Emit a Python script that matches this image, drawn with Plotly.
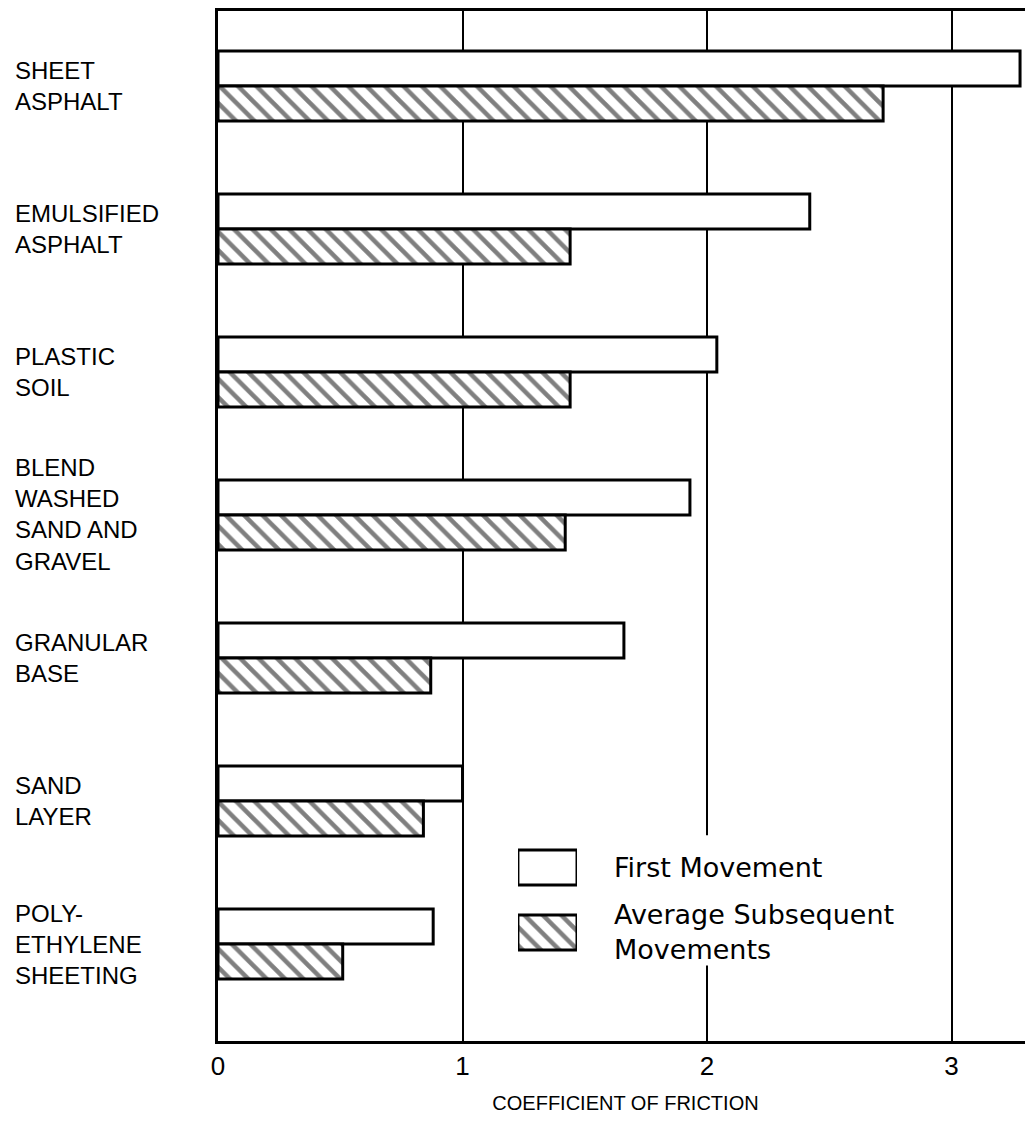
import plotly.graph_objects as go

# ---- data ----
CATEGORIES = [
    "SHEET<br>ASPHALT",
    "EMULSIFIED<br>ASPHALT",
    "PLASTIC<br>SOIL",
    "BLEND<br>WASHED<br>SAND AND<br>GRAVEL",
    "GRANULAR<br>BASE",
    "SAND<br>LAYER",
    "POLY-<br>ETHYLENE<br>SHEETING",
]
FIRST_MOVEMENT = [3.28, 2.42, 2.04, 1.93, 1.66, 1.00, 0.88]
AVG_SUBSEQUENT = [2.72, 1.44, 1.44, 1.42, 0.87, 0.84, 0.51]
SERIES_NAMES = ["First Movement", "Average Subsequent<br>Movements"]
X_TICKS = [0, 1, 2, 3]
X_TITLE = "COEFFICIENT OF FRICTION"

FONT = "Liberation Sans, Arial, Helvetica, sans-serif"
LEGEND_FONT = "DejaVu Sans, Verdana, sans-serif"

white_marker = dict(color="white", line=dict(color="black", width=3))
hatch_marker = dict(
    color="white",
    line=dict(color="black", width=3),
    pattern=dict(shape="\\", fgcolor="black", bgcolor="white", size=13, solidity=0.35),
)

fig = go.Figure()
fig.add_trace(go.Bar(x=FIRST_MOVEMENT, y=CATEGORIES, orientation="h",
                     name=SERIES_NAMES[0], marker=white_marker, showlegend=False))
fig.add_trace(go.Bar(x=AVG_SUBSEQUENT, y=CATEGORIES, orientation="h",
                     name=SERIES_NAMES[1], marker=hatch_marker, showlegend=False))

# legend swatches in a small inset axis
fig.add_trace(go.Bar(x=[1], y=[SERIES_NAMES[0]], orientation="h", xaxis="x2", yaxis="y2",
                     marker=white_marker, width=0.54, offset=-0.27, showlegend=False,
                     hoverinfo="skip"))
fig.add_trace(go.Bar(x=[1], y=[SERIES_NAMES[1]], orientation="h", xaxis="x2", yaxis="y2",
                     marker=hatch_marker, width=0.54, offset=-0.27, showlegend=False,
                     hoverinfo="skip"))

annotations = []
for cat in CATEGORIES:
    annotations.append(dict(
        text=cat, xref="paper", yref="y", x=-0.252, y=cat,
        xanchor="left", yanchor="middle", align="left", showarrow=False,
        font=dict(family=FONT, size=24, color="black"),
    ))

fig.update_layout(
    width=1025, height=1114,
    margin=dict(l=210, r=0, t=3, b=81),
    paper_bgcolor="white", plot_bgcolor="white",
    barmode="group", bargap=0.51, bargroupgap=0,
    font=dict(family=FONT, color="black"),
    annotations=annotations,
    xaxis=dict(
        range=[0, 3.333], tickvals=X_TICKS, ticktext=[str(v) for v in X_TICKS],
        showgrid=True, gridcolor="black", gridwidth=1.5, zeroline=False,
        showline=True, linecolor="black", linewidth=3, mirror=True, ticks="",
        tickfont=dict(family=FONT, size=26, color="black"),
        title=dict(text=X_TITLE, font=dict(family=FONT, size=20, color="black"), standoff=16),
    ),
    yaxis=dict(
        type="category", range=[6.678, -0.524], showticklabels=False,
        showgrid=False, zeroline=False, showline=True, linecolor="black",
        linewidth=3, ticks="",
    ),
    xaxis2=dict(domain=[0.368, 0.4405], anchor="y2", range=[0, 1], visible=False),
    yaxis2=dict(
        domain=[0.0738, 0.2], anchor="x2", type="category", range=[1.5, -0.5],
        side="right", showgrid=False, zeroline=False, showline=False, ticks="",
        ticklabelstandoff=36,
        tickfont=dict(family=LEGEND_FONT, size=27, color="black"),
    ),
    shapes=[dict(
        type="rect", xref="x", yref="y",
        x0=1.17, x1=2.83, y0=5.24, y1=6.15,
        fillcolor="white", line=dict(width=0), layer="between",
    )],
)

fig.write_html("out.html")
